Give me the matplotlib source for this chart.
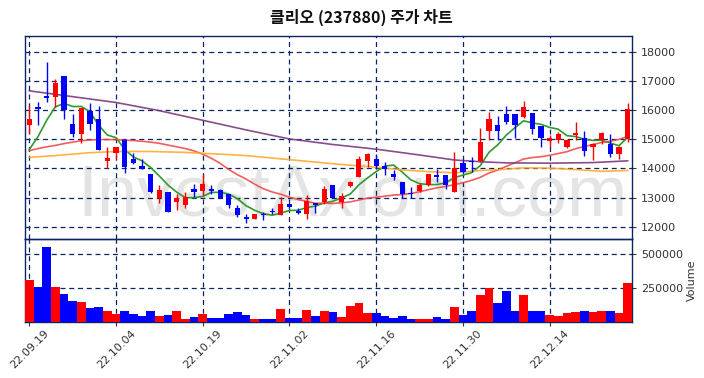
import matplotlib
matplotlib.use("Agg")
import matplotlib.pyplot as plt
import numpy as np
import pandas as pd

plt.rcParams['font.family'] = ['DejaVu Sans']

title = "클리오 (237880) 주가 차트"
tick_labels = ["22.09.19", "22.10.04", "22.10.19", "22.11.02", "22.11.16", "22.11.30", "22.12.14"]
tick_idx = [0, 10, 20, 30, 40, 50, 60]

opens = [15490, 16110, 16480, 16460, 17170, 15510, 15170, 15970, 15710, 14260,
         14540, 14970, 14320, 14080, 13800, 12990, 13200, 12860, 12740, 13310,
         13230, 13310, 13260, 13120, 12660, 12320, 12250, 12430, 12550, 12420,
         12770, 12550, 12430, 12800, 12860, 13430, 12860, 13410, 13710, 14260,
         14340, 14100, 13810, 13540, 13170, 13220, 13430, 13790, 13770, 13200,
         14170, 14250, 14250, 15290, 15490, 15850, 15860, 15780, 15900, 15470,
         14930, 14980, 14730, 15150, 15050, 14730, 14960, 14840, 14480, 15010]
highs = [16170, 16290, 17660, 17050, 17170, 15860, 16060, 16250, 16150, 14720,
         14720, 15000, 14540, 14340, 13800, 13430, 13200, 13140, 13200, 13460,
         13810, 13430, 13310, 13120, 12740, 12430, 12430, 12510, 12630, 13010,
         12780, 12630, 13090, 12820, 13390, 13430, 13170, 13570, 14420, 14540,
         14510, 14230, 13940, 13540, 13350, 13490, 13810, 13970, 13770, 14550,
         14290, 14400, 15400, 15940, 15790, 16130, 15880, 16300, 15900, 15470,
         15130, 15240, 15000, 15580, 15270, 14860, 15240, 15180, 14760, 16260]
lows = [15200, 15490, 16290, 16110, 15710, 15090, 14880, 15310, 14630, 14020,
        14340, 13860, 14150, 13970, 13170, 12800, 12510, 12570, 12660, 13030,
        13090, 13120, 12970, 12660, 12320, 12140, 12250, 12230, 12430, 12400,
        12660, 12430, 12250, 12460, 12780, 12970, 12630, 13370, 13690, 14060,
        14000, 13770, 13620, 12970, 12970, 13200, 13400, 13540, 13310, 13200,
        13850, 13890, 14230, 14970, 14970, 15540, 15050, 15730, 15180, 14750,
        14750, 14860, 14700, 14980, 14440, 14300, 14840, 14390, 14330, 14900]
closes = [15710, 16050, 16430, 16940, 16020, 15170, 16060, 15510, 14630, 14350,
          14720, 14060, 14190, 13990, 13180, 13260, 12510, 12990, 13030, 13200,
          13460, 13220, 12990, 12740, 12400, 12250, 12430, 12400, 12500, 12770,
          12690, 12460, 12880, 12740, 13310, 12970, 13050, 13520, 14340, 14480,
          14080, 13970, 13710, 13140, 13140, 13430, 13810, 13710, 13430, 14020,
          13890, 14220, 14910, 15710, 15290, 15580, 15490, 16090, 15350, 15050,
          15050, 15180, 14980, 15210, 14590, 14840, 15210, 14500, 14750, 16030]
volumes = [307, 255, 552, 255, 203, 151, 144, 99, 106, 77,
           54, 77, 54, 40, 77, 40, 47, 77, 17, 32,
           54, 25, 25, 54, 69, 47, 17, 17, 17, 92,
           25, 25, 84, 40, 77, 69, 32, 114, 136, 62,
           62, 40, 25, 40, 17, 17, 17, 32, 17, 106,
           47, 77, 196, 243, 136, 225, 77, 196, 77, 77,
           47, 40, 62, 69, 77, 69, 77, 77, 62, 285]
volumes = [v * 1000 for v in volumes]

# moving averages: first values (need earlier data)
ma5_head = [14650, 15090, 15650, 16110]
ma20_head = [14610, 14680, 14740, 14790, 14850, 14900, 14950, 14975, 14990, 14990,
             14985, 14970, 14955, 14930, 14900, 14860, 14800, 14740, 14680]
ma60_idx = [0, 3, 7, 10, 14, 18, 22, 25, 30, 35, 40, 43, 46, 49, 52, 55, 57, 60, 63, 66, 69]
ma60_val = [14380, 14440, 14540, 14580, 14580, 14550, 14490, 14440, 14300, 14160,
            14040, 13950, 13890, 13850, 13930, 13970, 14020, 14010, 13960, 13900, 13930]
ma120_idx = [0, 5, 10, 15, 20, 25, 30, 35, 40, 45, 49, 52, 55, 60, 65, 69]
ma120_val = [16660, 16460, 16260, 15980, 15650, 15320, 15010, 14820, 14660, 14460,
             14290, 14230, 14190, 14180, 14200, 14260]

n = len(closes)
x = np.arange(n)
o = np.array(opens); c = np.array(closes); h = np.array(highs); l = np.array(lows)
up = c >= o
colors = np.where(up, '#ff0000', '#0000ff')

cs = pd.Series(closes, dtype=float)
ma5 = cs.rolling(5).mean().to_numpy()
ma5[:4] = ma5_head
ma20 = cs.rolling(20).mean().to_numpy()
ma20[:19] = ma20_head

fig = plt.figure(figsize=(7.04, 3.78), dpi=100)
ax = fig.add_axes([25/704, 1-239/378, (632-25)/704, (239-36)/378])
axv = fig.add_axes([25/704, 1-321.5/378, (632-25)/704, (321.5-239)/378], sharex=ax)

navy = '#0b2463'
grid_kw = dict(color=navy, linestyle=(0, (4, 3)), linewidth=0.9)

fig.text(0.513, 0.955, title, ha='center', va='center', fontsize=11.5, fontweight='bold',
         family=['Noto Sans CJK KR', 'DejaVu Sans'], color='#111111')

# watermark (behind the axes)
fig.text(0.5, 1 - 215/378, "InvestAxiom.com", ha='center', va='baseline',
         fontsize=52, color='#dcdcdc', alpha=0.75, zorder=-1,
         family=['Liberation Sans', 'DejaVu Sans'])
ax.patch.set_alpha(0)
axv.patch.set_alpha(0)

ax.plot(x, ma5, color='#2e9a2e', lw=1.2, zorder=3)
ax.plot(x, ma20, color='#f04040', lw=1.2, alpha=0.85, zorder=3)
ax.plot(ma60_idx, ma60_val, color='#ffa520', lw=1.2, alpha=0.85, zorder=3)
ax.plot(ma120_idx, ma120_val, color='#7a3a80', lw=1.2, alpha=0.9, zorder=3)

ax.vlines(x, l, h, colors=colors, lw=1.0, zorder=4)
ax.bar(x, np.abs(c - o), bottom=np.minimum(o, c), width=0.6, color=colors, zorder=5)

axv.bar(x, volumes, width=1.0, color=colors, zorder=3)

ax.set_xlim(-0.5, n - 0.5)
ax.set_ylim(11580, 18540)
ax.set_yticks([12000, 13000, 14000, 15000, 16000, 17000, 18000])
axv.set_ylim(0, max(volumes) * 1.1)
axv.set_yticks([250000, 500000])
axv.set_xticks(tick_idx)
axv.set_xticklabels(tick_labels, rotation=45, ha='center')

for a in (ax, axv):
    a.yaxis.tick_right()
    a.tick_params(axis='both', labelsize=8, colors='#333333', length=3)
    a.grid(True, **grid_kw)
    a.set_axisbelow(True)
    for s in a.spines.values():
        s.set_color(navy)
        s.set_linewidth(1.0)
ax.tick_params(axis='x', labelbottom=False, length=0)
axv.tick_params(axis='x', pad=2)
axv.yaxis.set_label_position('right')
axv.set_ylabel('Volume', fontsize=8, color='#333333', labelpad=3)

fig.savefig('out.png', dpi=100)
